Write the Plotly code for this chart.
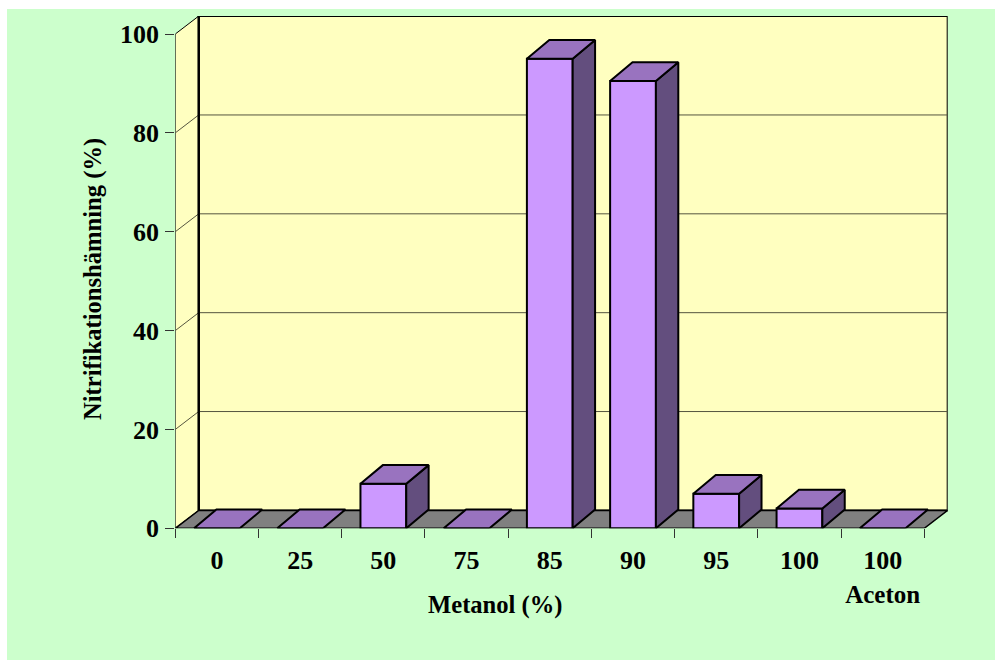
import plotly.graph_objects as go

# Chart data
categories = ["0", "25", "50", "75", "85", "90", "95", "100", "100<br><span style=\"font-size:25px\">Aceton</span>"]
inhibition = [0, 0, 9, 0, 95, 90.5, 7, 4, 0]
y_ticks = [0, 20, 40, 60, 80, 100]

W, H = 995, 661
FONT = dict(family="Liberation Serif", size=24.6, color="black", weight=700)
TICK_FONT = dict(family="Liberation Serif", size=26, color="black", weight=700)

# Plot frame in pixels: front edge of the floor runs from x0 to x1, wall top at y_top
x0_px, x1_px, y0_px, y_top_px = 175.3, 947.7, 528.3, 16.0
cat_px = 83.22
val_px = 4.943

# Oblique projection offsets in axis units
WALL_DX, WALL_DY = 23.4 / cat_px, 17.9 / val_px
BAR_DX, BAR_DY = 22.4 / cat_px, 18.7 / val_px
BAR_W = 0.55
n = len(categories)
x_pos = [i + 0.5 for i in range(n)]


def poly(points):
    """SVG path through data-space points."""
    return "M" + " L".join(f"{x},{y}" for x, y in points) + " Z"


shapes = [
    # Page background
    dict(type="rect", xref="paper", yref="paper", x0=7 / W, x1=1, y0=1 - 660 / H, y1=1 - 9 / H,
         fillcolor="#CCFFCC", line_width=0, layer="below"),
    # Back wall
    dict(type="path", xref="x", yref="y", layer="below", fillcolor="#FFFFC0",
         line=dict(color="black", width=2),
         path=poly([(WALL_DX, WALL_DY), (n + WALL_DX, WALL_DY),
                    (n + WALL_DX, 100 + WALL_DY), (WALL_DX, 100 + WALL_DY)])),
    # Side wall
    dict(type="path", xref="x", yref="y", layer="below", fillcolor="#FFFFC0",
         line=dict(color="black", width=1),
         path=poly([(0, 0), (WALL_DX, WALL_DY), (WALL_DX, 100 + WALL_DY), (0, 100)])),
]
# Gridlines across side wall and back wall
for v in y_ticks[1:-1]:
    shapes.append(dict(type="path", xref="x", yref="y", layer="below",
                       line=dict(color="#55553f", width=1),
                       path=f"M0,{v} L{WALL_DX},{v + WALL_DY} L{n + WALL_DX},{v + WALL_DY}"))
shapes += [
    # Heavy rear corner
    dict(type="line", xref="x", yref="y", layer="below", x0=WALL_DX, x1=WALL_DX,
         y0=WALL_DY, y1=100 + WALL_DY, line=dict(color="black", width=2.5)),
    # Floor
    dict(type="path", xref="x", yref="y", layer="below", fillcolor="#808080",
         line=dict(color="black", width=1.5),
         path=poly([(0, 0), (n, 0), (n + WALL_DX, WALL_DY), (WALL_DX, WALL_DY)])),
]

# Top and side faces of each column, projected from its value
top_x, top_y, side_x, side_y = [], [], [], []
for xc, v in zip(x_pos, inhibition):
    l, r = xc - BAR_W / 2, xc + BAR_W / 2
    top_x += [l, r, r + BAR_DX, l + BAR_DX, l, None]
    top_y += [v, v, v + BAR_DY, v + BAR_DY, v, None]
    if v > 0:
        side_x += [r, r + BAR_DX, r + BAR_DX, r, r, None]
        side_y += [0, BAR_DY, v + BAR_DY, v, 0, None]

fig = go.Figure()
fig.add_bar(x=x_pos, y=inhibition, width=BAR_W, marker=dict(color="#CC99FF", line=dict(color="black", width=2)))
fig.add_scatter(x=side_x, y=side_y, mode="lines", fill="toself", fillcolor="#634E7E",
                line=dict(color="black", width=2))
fig.add_scatter(x=top_x, y=top_y, mode="lines", fill="toself", fillcolor="#9973BF",
                line=dict(color="black", width=2))

fig.update_layout(
    width=W, height=H, margin=dict(l=0, r=0, t=0, b=0, autoexpand=False),
    autosize=False,
    paper_bgcolor="white", plot_bgcolor="rgba(0,0,0,0)",
    showlegend=False, font=FONT, shapes=shapes,
    annotations=[
        dict(text="Metanol (%)", xref="paper", yref="paper", x=495 / W, y=1 - 605 / H,
             xanchor="center", yanchor="middle", showarrow=False, font=FONT),
        dict(text="Nitrifikationshämning (%)", xref="paper", yref="paper", x=93 / W, y=1 - 279 / H,
             xanchor="center", yanchor="middle", textangle=-90, showarrow=False, font=FONT),
    ],
    xaxis=dict(
        domain=[x0_px / W, x1_px / W], range=[0, (x1_px - x0_px) / cat_px],
        tickmode="array", tickvals=x_pos, ticktext=categories,
        ticks="", showgrid=False, zeroline=False, showline=False,
        ticklabelstandoff=14, tickfont=TICK_FONT,
        minor=dict(tickmode="array", tickvals=list(range(n + 1)), ticks="outside",
                   ticklen=9, tickcolor="#333333", tickwidth=1, showgrid=False),
    ),
    yaxis=dict(
        domain=[1 - y0_px / H, 1 - y_top_px / H], range=[0, (y0_px - y_top_px) / val_px],
        tickmode="array", tickvals=y_ticks, ticks="outside", ticklen=9, tickwidth=1,
        tickcolor="#333333", showgrid=False, zeroline=False, showline=False,
        ticklabelstandoff=1, tickfont=TICK_FONT,
    ),
)

fig.write_html("out.html")
